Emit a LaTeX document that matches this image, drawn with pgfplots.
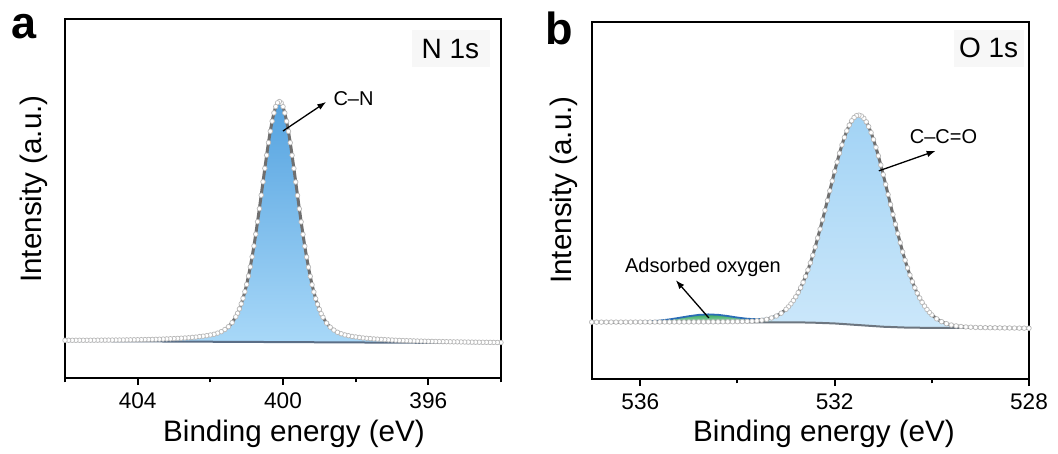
\documentclass[border=0pt]{standalone}
\usepackage{fontspec}
\setmainfont{Liberation Sans}
\usepackage{pgfplots}
\pgfplotsset{compat=1.18}
\usepackage{pgfplotstable}
\usetikzlibrary{arrows.meta}
\definecolor{fillAtop}{HTML}{55A3E0}
\definecolor{fillAbot}{HTML}{A8D8F8}
\definecolor{fillBtop}{HTML}{A2D3F5}
\definecolor{fillBbot}{HTML}{CBE7FA}
\definecolor{greentop}{HTML}{3DAA63}
\definecolor{greenbot}{HTML}{9ED9B5}
\definecolor{envblue}{HTML}{2A6DB5}
\definecolor{baseA}{HTML}{5B6E86}
\definecolor{baseB}{HTML}{6D7680}
\definecolor{dataline}{HTML}{6F6F6F}

\pgfplotstableread{
x y
394.0 9.89
394.1 9.90
394.2 9.92
394.3 9.93
394.4 9.94
394.5 9.95
394.6 9.97
394.7 9.98
394.8 9.99
394.9 10.01
395.0 10.02
395.1 10.04
395.2 10.06
395.3 10.07
395.4 10.09
395.5 10.11
395.6 10.13
395.7 10.15
395.8 10.17
395.9 10.20
396.0 10.22
396.1 10.25
396.2 10.28
396.3 10.30
396.4 10.34
396.5 10.37
396.6 10.40
396.7 10.44
396.8 10.48
396.9 10.53
397.0 10.58
397.1 10.63
397.2 10.69
397.3 10.75
397.4 10.82
397.5 10.89
397.6 10.97
397.7 11.07
397.8 11.16
397.9 11.31
398.0 11.44
398.1 11.59
398.2 11.79
398.3 12.00
398.4 12.33
398.5 12.74
398.6 13.35
398.7 14.16
398.8 15.30
398.9 16.92
398.95 17.92
399.0 19.13
399.05 20.54
399.1 22.09
399.15 23.96
399.2 25.97
399.25 28.32
399.3 30.87
399.35 33.69
399.4 36.70
399.45 39.99
399.5 43.48
399.55 47.10
399.6 50.85
399.65 54.60
399.7 58.36
399.75 62.03
399.8 65.53
399.85 68.70
399.9 71.51
399.95 73.83
400.0 75.59
400.05 76.64
400.1 77.01
400.15 76.65
400.2 75.60
400.25 73.84
400.3 71.53
400.35 68.73
400.4 65.56
400.45 62.06
400.5 58.40
400.55 54.65
400.6 50.90
400.65 47.15
400.7 43.54
400.75 40.06
400.8 36.77
400.85 33.76
400.9 30.95
400.95 28.41
401.0 26.06
401.05 24.05
401.1 22.19
401.15 20.65
401.2 19.24
401.25 18.03
401.3 17.04
401.4 15.43
401.5 14.30
401.6 13.50
401.7 12.90
401.8 12.50
401.9 12.18
402.0 11.98
402.1 11.79
402.2 11.65
402.3 11.53
402.4 11.39
402.5 11.31
402.6 11.20
402.7 11.15
402.8 11.09
402.9 11.03
403.0 10.98
403.1 10.93
403.2 10.89
403.3 10.85
403.4 10.81
403.5 10.78
403.6 10.75
403.7 10.73
403.8 10.71
403.9 10.68
404.0 10.67
404.1 10.65
404.2 10.63
404.3 10.62
404.4 10.60
404.5 10.59
404.6 10.58
404.7 10.57
404.8 10.56
404.9 10.55
405.0 10.55
405.1 10.54
405.2 10.53
405.3 10.53
405.4 10.52
405.5 10.52
405.6 10.52
405.7 10.51
405.8 10.51
405.9 10.51
406.0 10.51
}\dataA

\pgfplotstableread{
x y
528.0 14.23
528.1 14.24
528.2 14.25
528.3 14.27
528.4 14.29
528.5 14.30
528.6 14.32
528.7 14.34
528.8 14.35
528.9 14.38
529.0 14.41
529.1 14.45
529.2 14.51
529.3 14.58
529.4 14.70
529.5 14.87
529.6 15.12
529.7 15.50
529.8 16.06
529.9 16.85
530.0 17.97
530.05 18.67
530.1 19.48
530.15 20.42
530.2 21.48
530.25 22.69
530.3 24.04
530.35 25.56
530.4 27.24
530.45 29.09
530.5 31.10
530.55 33.28
530.6 35.59
530.65 38.18
530.7 40.71
530.75 43.35
530.8 46.07
530.85 48.86
530.9 51.67
530.95 54.49
531.0 57.24
531.05 59.93
531.1 62.49
531.15 64.88
531.2 67.08
531.25 69.02
531.3 70.69
531.35 72.03
531.4 73.03
531.45 73.66
531.5 73.90
531.55 73.76
531.6 73.23
531.65 72.33
531.7 71.09
531.75 69.52
531.8 67.66
531.85 65.56
531.9 63.25
531.95 60.77
532.0 58.16
532.05 55.47
532.1 52.73
532.15 49.98
532.2 47.25
532.25 44.57
532.3 41.99
532.35 39.50
532.4 36.95
532.45 34.66
532.5 32.52
532.55 30.54
532.6 28.72
532.65 27.06
532.7 25.56
532.75 24.22
532.8 23.02
532.85 21.97
532.9 21.04
532.95 20.23
533.0 19.53
533.1 18.43
533.2 17.64
533.3 17.10
533.4 16.72
533.5 16.47
533.6 16.31
533.7 16.20
533.8 16.14
533.9 16.09
534.0 16.06
534.1 16.04
534.2 16.03
534.3 16.02
534.4 16.01
534.5 16.00
534.6 16.00
534.7 15.99
534.8 15.99
534.9 15.98
535.0 15.98
535.1 15.97
535.2 15.97
535.3 15.97
535.4 15.96
535.5 15.96
535.6 15.96
535.7 15.95
535.8 15.95
535.9 15.95
536.0 15.95
536.1 15.95
536.2 15.94
536.3 15.94
536.4 15.94
536.5 15.94
536.6 15.94
536.7 15.93
536.8 15.93
536.9 15.93
537.0 15.93
}\dataB

\pgfplotsset{
  xps/.style={
    scale only axis,
    x dir=reverse,
    ymin=0, ymax=100,
    ytick=\empty,
    xtick pos=left,
    tick align=outside,
    major tick length=3.6pt,
    minor tick length=2.2pt,
    every tick/.style={black, line width=1pt},
    axis line style={black, line width=1.2pt},
    /pgf/number format/assume math mode=true,
    /pgf/number format/1000 sep={},
    xticklabel style={font=\fontsize{11.3}{13}\selectfont, inner sep=0pt, yshift=-3.6pt},
  },
  dataplot/.style={color=dataline, line width=1.5pt, mark=*, mark size=1.15pt,
    mark options={fill=white, draw=gray!55, line width=0.35pt, solid}},
}

\begin{document}
\begin{tikzpicture}
\useasboundingbox (0,0) rectangle (529pt,227pt);

% ---------- panel a ----------
\begin{axis}[xps, at={(32.5pt,38pt)}, anchor=south west,
  width=218pt, height=179.5pt,
  xmin=394, xmax=406, xtick={396,400,404}, minor xtick={394,398,402,406}]
\addplot[draw=none, top color=fillAtop, bottom color=fillAbot] table {
397.1 10.63
397.3 10.75
397.5 10.89
397.7 11.07
397.9 11.31
398.0 11.44
398.1 11.59
398.2 11.79
398.3 12.00
398.4 12.33
398.5 12.74
398.6 13.35
398.7 14.16
398.8 15.30
398.9 16.92
398.95 17.92
399.0 19.13
399.05 20.54
399.1 22.09
399.15 23.96
399.2 25.97
399.25 28.32
399.3 30.87
399.35 33.69
399.4 36.70
399.45 39.99
399.5 43.48
399.55 47.10
399.6 50.85
399.65 54.60
399.7 58.36
399.75 62.03
399.8 65.53
399.85 68.70
399.9 71.51
399.95 73.83
400.0 75.59
400.05 76.64
400.1 77.01
400.15 76.65
400.2 75.60
400.25 73.84
400.3 71.53
400.35 68.73
400.4 65.56
400.45 62.06
400.5 58.40
400.55 54.65
400.6 50.90
400.65 47.15
400.7 43.54
400.75 40.06
400.8 36.77
400.85 33.76
400.9 30.95
400.95 28.41
401.0 26.06
401.05 24.05
401.1 22.19
401.15 20.65
401.2 19.24
401.25 18.03
401.3 17.04
401.4 15.43
401.5 14.30
401.6 13.50
401.7 12.90
401.8 12.50
401.9 12.18
402.0 11.98
402.2 11.65
402.4 11.39
402.6 11.20
402.8 11.09
403.1 10.93
403.1 10.155
397.1 9.855
};
\addplot[color=baseA, line width=1pt] coordinates {(394,9.70) (406,10.30)};
\addplot[dataplot] table {\dataA};
\draw[-{Latex[length=4.5pt,width=3.2pt]}, line width=0.65pt] (axis cs:400.0,68.8) -- (axis cs:398.81,76.9);
\node[anchor=base west, inner sep=0pt, font=\fontsize{10}{12}\selectfont] at (axis cs:398.62,76.0) {C–N};
\end{axis}

% ---------- panel b ----------
\begin{axis}[xps, at={(295.85pt,37.5pt)}, anchor=south west,
  width=218.65pt, height=178.5pt,
  xmin=528, xmax=537, xtick={528,532,536}, minor xtick={530,534}]
\addplot[draw=none, top color=fillBtop, bottom color=fillBbot] table {
529.0 14.41
529.2 14.51
529.4 14.70
529.6 15.12
529.7 15.50
529.8 16.06
529.9 16.85
530.0 17.97
530.05 18.67
530.1 19.48
530.15 20.42
530.2 21.48
530.25 22.69
530.3 24.04
530.35 25.56
530.4 27.24
530.45 29.09
530.5 31.10
530.55 33.28
530.6 35.59
530.65 38.18
530.7 40.71
530.75 43.35
530.8 46.07
530.85 48.86
530.9 51.67
530.95 54.49
531.0 57.24
531.05 59.93
531.1 62.49
531.15 64.88
531.2 67.08
531.25 69.02
531.3 70.69
531.35 72.03
531.4 73.03
531.45 73.66
531.5 73.90
531.55 73.76
531.6 73.23
531.65 72.33
531.7 71.09
531.75 69.52
531.8 67.66
531.85 65.56
531.9 63.25
531.95 60.77
532.0 58.16
532.05 55.47
532.1 52.73
532.15 49.98
532.2 47.25
532.25 44.57
532.3 41.99
532.35 39.50
532.4 36.95
532.45 34.66
532.5 32.52
532.55 30.54
532.6 28.72
532.65 27.06
532.7 25.56
532.75 24.22
532.8 23.02
532.85 21.97
532.9 21.04
532.95 20.23
533.0 19.53
533.1 18.43
533.2 17.64
533.3 17.10
533.4 16.72
533.6 16.31
533.8 16.14
534.0 16.06
534.0 15.90
533.0 15.88
532.5 15.81
532.0 15.56
531.5 15.10
531.0 14.64
530.5 14.39
530.0 14.32
529.0 14.28
};
\addplot[draw=none, top color=greentop, bottom color=greenbot] table {
536.4 15.91
536.2 15.93
536.0 15.98
535.8 16.09
535.6 16.30
535.4 16.63
535.2 17.06
535.0 17.51
534.8 17.87
534.6 18.00
534.4 17.87
534.2 17.51
534.0 17.06
533.8 16.63
533.6 16.30
533.4 16.09
533.2 15.98
533.0 15.93
532.8 15.91
};
\addplot[color=baseB, line width=1pt] coordinates {(528.0,14.15) (529.0,14.28) (530.0,14.32) (530.5,14.39) (531.0,14.64) (531.5,15.10) (532.0,15.56) (532.5,15.81) (533.0,15.88) (534.0,15.90) (537.0,15.85)};
\addplot[color=envblue, line width=0.9pt] table {
537.0 15.93
536.6 15.94
536.4 15.95
536.2 15.98
536.0 16.03
535.8 16.15
535.6 16.36
535.4 16.70
535.2 17.13
535.0 17.59
534.8 17.96
534.6 18.10
534.4 17.98
534.2 17.64
534.0 17.21
533.8 16.88
533.6 16.73
533.4 16.91
533.2 17.72
533.0 19.56
532.8 23.03
532.6 28.72
};
\addplot[dataplot] table {\dataB};
\draw[-{Latex[length=4.5pt,width=3.2pt]}, line width=0.65pt] (axis cs:531.09,58.3) -- (axis cs:529.92,63.9);
\node[anchor=base west, inner sep=0pt, font=\fontsize{10}{12}\selectfont] at (axis cs:530.46,66.1) {C–C=O};
\draw[-{Latex[length=4.5pt,width=3.2pt]}, line width=0.65pt] (axis cs:534.59,17.1) -- (axis cs:535.27,27.7);
\node[anchor=base west, inner sep=0pt, font=\fontsize{10}{12}\selectfont] at (axis cs:536.32,29.7) {Adsorbed oxygen};
\end{axis}

% ---------- labels ----------
\node[anchor=base west, inner sep=0pt, font=\fontsize{22.5}{27}\selectfont\bfseries] at (5.4pt,207.5pt) {a};
\node[anchor=base west, inner sep=0pt, font=\fontsize{22.5}{27}\selectfont\bfseries] at (272.5pt,204.5pt) {b};
\node[rotate=90, anchor=base, inner sep=0pt, font=\fontsize{14.8}{17}\selectfont] at (20.85pt,132.5pt) {Intensity (a.u.)};
\node[rotate=90, anchor=base, inner sep=0pt, font=\fontsize{14.8}{17}\selectfont] at (285.85pt,132pt) {Intensity (a.u.)};
\node[anchor=base, inner sep=0pt, font=\fontsize{14.8}{17}\selectfont] at (147pt,6pt) {Binding energy (eV)};
\node[anchor=base, inner sep=0pt, font=\fontsize{14.8}{17}\selectfont] at (412pt,6pt) {Binding energy (eV)};
\fill[black!3] (206pt,193.5pt) rectangle (245pt,212pt);
\node[anchor=base west, inner sep=0pt, font=\fontsize{14}{17}\selectfont] at (210.6pt,197.85pt) {N 1s};
\fill[black!3] (477pt,193.5pt) rectangle (512pt,212pt);
\node[anchor=base west, inner sep=0pt, font=\fontsize{14}{17}\selectfont] at (479.3pt,198pt) {O 1s};
\end{tikzpicture}
\end{document}
